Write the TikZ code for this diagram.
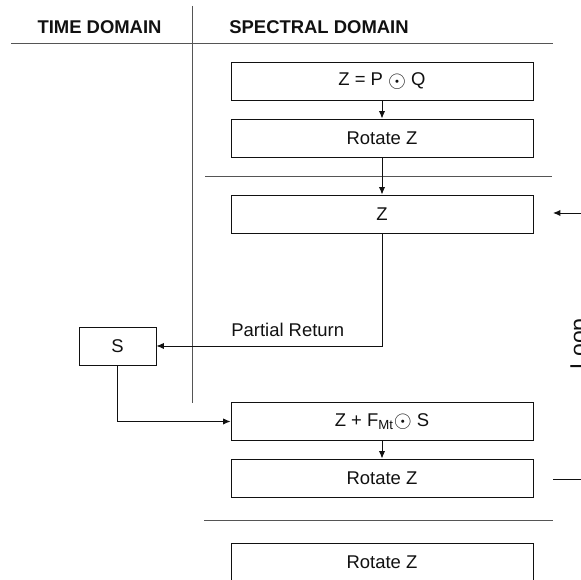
\documentclass[tikz,border=0pt]{standalone}
\usepackage{fontspec}
\setmainfont{Liberation Sans}
\usetikzlibrary{arrows.meta,positioning}
\definecolor{ink}{HTML}{111111}
\definecolor{rule}{HTML}{555555}
\newcommand{\bigdot}{\raisebox{-0.15ex}{\scalebox{1.2}{$\odot$}}}
\tikzset{
  stagebox/.style={draw=ink,line width=0.55pt,fill=white,minimum width=302*0.02cm,minimum height=38*0.02cm,inner sep=0pt,font=\fontsize{10.5}{12}\selectfont,text=ink},
  smallbox/.style={stagebox,minimum width=77*0.02cm},
  head/.style={font=\fontsize{10.5}{12}\selectfont\bfseries,text=ink,inner sep=0pt},
  tag/.style={font=\fontsize{10.5}{12}\selectfont,text=ink,inner sep=0pt},
  flow/.style={-{Latex[length=4.2pt,width=3.6pt]},line width=0.55pt,draw=ink},
  sep/.style={line width=0.55pt,draw=rule}
}
\begin{document}
\begin{tikzpicture}[x=0.02cm,y=0.02cm]
    \useasboundingbox (0,0) rectangle (581,580);
    % headings and dividers
    \node[head] (timehead) at (99.5,553) {TIME DOMAIN};
    \node[head,anchor=west] (spechead) at (229,553) {SPECTRAL DOMAIN};
    \draw[sep] (11,537) -- (553,537);
    \draw[sep] (192,574) -- (192,177);
    \draw[sep] (205,404) -- (552,404);
    \draw[sep] (204,60) -- (553,60);

    % spectral stages
    \node[stagebox] (prod) at (382,499) {Z = P \bigdot{} Q};
    \node[stagebox] (rotA) at (382,442) {Rotate Z};
    \node[stagebox] (zval) at (382,366) {Z};
    \node[stagebox] (zadd) at (382,158.5) {Z + F\textsubscript{\fontsize{7.5}{8}\selectfont Mt}\bigdot{} S};
    \node[stagebox] (rotB) at (382,102) {Rotate Z};
    \node[stagebox] (rotC) at (382,18) {Rotate Z};

    % time stage
    \node[smallbox] (sval) at (117.5,234) {S};

    \draw[flow] (prod) -- (rotA);
    \draw[flow] (rotA) -- (zval);
    \draw[flow] (zval.south) |- (sval.east);
    \node[tag,anchor=base west] (partret) at (231,243) {Partial Return};
    \draw[flow] (sval.south) |- (zadd.west);
    \draw[flow] (zadd) -- (rotB);

    % loop back (cut at the edge)
    \coordinate (loopin) at (553,367);
    \coordinate (loopinfar) at (600,367);
    \coordinate (loopout) at (553,101);
    \coordinate (loopoutfar) at (600,101);
    \draw[flow] (loopinfar) -- (loopin);
    \draw[line width=0.55pt,draw=ink] (loopout) -- (loopoutfar);
    \node[tag,font=\fontsize{13}{14}\selectfont,rotate=90,anchor=base] (looptag) at (586,236) {Loop};
  \end{tikzpicture}
\end{document}
